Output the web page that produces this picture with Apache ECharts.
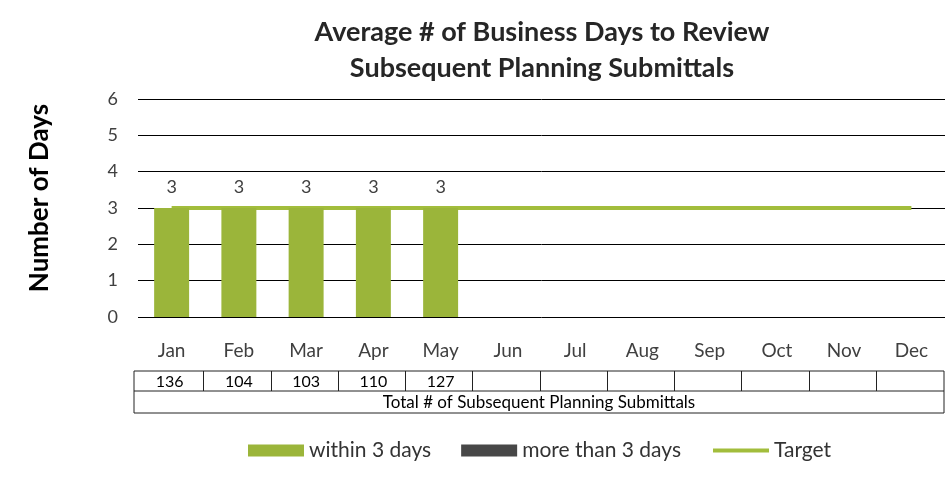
<!DOCTYPE html>
<html>
<head>
<meta charset="utf-8">
<script src="https://cdn.jsdelivr.net/npm/echarts@6/dist/echarts.min.js"></script>
<style>
  html, body { margin: 0; padding: 0; background: #fff; }
  #chart { width: 951px; height: 485px; }
</style>
</head>
<body>
<div id="chart"></div>
<script>
var months = ['Jan', 'Feb', 'Mar', 'Apr', 'May', 'Jun', 'Jul', 'Aug', 'Sep', 'Oct', 'Nov', 'Dec'];
var within3 = [3, 3, 3, 3, 3, null, null, null, null, null, null, null];
var moreThan3 = [null, null, null, null, null, null, null, null, null, null, null, null];
var target = [3, 3, 3, 3, 3, 3, 3, 3, 3, 3, 3, 3];
var submittals = ['136', '104', '103', '110', '127', '', '', '', '', '', '', ''];
var tableLabel = 'Total # of Subsequent Planning Submittals';
var titleLines = ['Average # of Business Days to Review', 'Subsequent Planning Submittals'];
var yTitle = 'Number of Days';

var font = 'Lato';
var chart = echarts.init(document.getElementById('chart'));

var option = {
	animation: false,
	backgroundColor: '#fff',
	grid: { left: 138, right: 6, top: 99, bottom: 168 },
	legend: {
		left: 243,
		top: 435,
		itemGap: 30,
		itemWidth: 56,
		itemHeight: 12,
		textStyle: { fontFamily: font, fontSize: 21, color: '#333' },
		data: [
			{ name: 'within 3 days', icon: 'rect' },
			{ name: 'more than 3 days', icon: 'rect' },
			{ name: 'Target', itemStyle: { opacity: 0 }, lineStyle: { width: 4 } }
		]
	},
	xAxis: {
		type: 'category',
		data: months,
		axisLine: { show: false },
		axisTick: { show: false },
		axisLabel: { fontFamily: font, fontSize: 19, color: '#404040', margin: 24 }
	},
	yAxis: {
		type: 'value',
		min: 0,
		max: 6,
		interval: 1,
		axisLine: { show: false },
		axisTick: { show: false },
		axisLabel: { fontFamily: font, fontSize: 18, color: '#404040', margin: 20 },
		splitLine: { lineStyle: { color: '#000', width: 1 } }
	},
	series: [
		{
			name: 'within 3 days',
			type: 'bar',
			stack: 'days',
			barWidth: '52%',
			itemStyle: { color: '#9BB53A' },
			label: { show: true, position: 'top', distance: 12, fontFamily: font, fontSize: 18, color: '#404040' },
			data: within3
		},
		{
			name: 'more than 3 days',
			type: 'bar',
			stack: 'days',
			itemStyle: { color: '#474747' },
			data: moreThan3
		},
		{
			name: 'Target',
			type: 'line',
			symbol: 'none',
			lineStyle: { color: '#A2BD3C', width: 4 },
			itemStyle: { color: '#A2BD3C' },
			z: 1,
			data: target
		}
	]
};
chart.setOption(option);

// title, axis title and data table below the axis, placed from the category scale
var graphics = [];
graphics.push({
	type: 'text',
	x: 542,
	y: 14,
	style: {
		text: titleLines.join('\n'),
		fontFamily: font,
		fontSize: 27,
		fontWeight: 'bold',
		lineHeight: 36,
		fill: '#262626',
		align: 'center'
	}
});
graphics.push({
	type: 'text',
	x: 40,
	y: 198,
	rotation: Math.PI / 2,
	style: {
		text: yTitle,
		fontFamily: font,
		fontSize: 26,
		fontWeight: 'bold',
		fill: '#000',
		align: 'center',
		verticalAlign: 'middle'
	}
});

var tLeft = 134, tRight = 944, row1 = 371, row2 = 391, row3 = 413;
var half = (chart.convertToPixel({ xAxisIndex: 0 }, months[1]) - chart.convertToPixel({ xAxisIndex: 0 }, months[0])) / 2;
graphics.push({
	type: 'rect',
	shape: { x: tLeft, y: row1, width: tRight - tLeft, height: row3 - row1 },
	style: { fill: 'none', stroke: '#222', lineWidth: 1 }
});
graphics.push({
	type: 'line',
	shape: { x1: tLeft, y1: row2, x2: tRight, y2: row2 },
	style: { stroke: '#222', lineWidth: 1 }
});
for (var i = 0; i < months.length; i++) {
	var cx = chart.convertToPixel({ xAxisIndex: 0 }, months[i]);
	if (i < months.length - 1) {
		var bx = Math.round(cx + half) - 1.5;
		graphics.push({
			type: 'line',
			shape: { x1: bx, y1: row1, x2: bx, y2: row2 },
			style: { stroke: '#222', lineWidth: 1 }
		});
	}
	var left = i === 0 ? tLeft : cx - half;
	var right = i === months.length - 1 ? tRight : cx + half;
	graphics.push({
		type: 'text',
		x: (left + right) / 2,
		y: (row1 + row2) / 2 + 1,
		style: { text: submittals[i], fontFamily: font, fontSize: 16, fill: '#000', align: 'center', verticalAlign: 'middle' }
	});
}
graphics.push({
	type: 'text',
	x: (tLeft + tRight) / 2,
	y: (row2 + row3) / 2 + 1,
	style: { text: tableLabel, fontFamily: font, fontSize: 17, fill: '#000', align: 'center', verticalAlign: 'middle' }
});
chart.setOption({ graphic: graphics });
</script>
</body>
</html>
